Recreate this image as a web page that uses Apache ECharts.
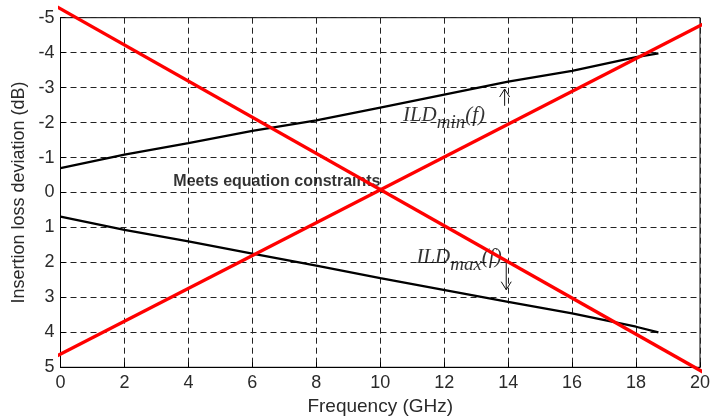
<!DOCTYPE html>
<html>
<head>
<meta charset="utf-8">
<script src="https://cdn.jsdelivr.net/npm/echarts@6/dist/echarts.min.js"></script>
<style>
html,body{margin:0;padding:0;background:#fff;}
#chart{width:719px;height:417px;}
</style>
</head>
<body>
<div id="chart"></div>
<script>
// ---- data ----
const xTicks = [0, 2, 4, 6, 8, 10, 12, 14, 16, 18, 20];
const yTicks = [-5, -4, -3, -2, -1, 0, 1, 2, 3, 4, 5];

const ildMinFreq = [0, 2, 4, 6, 8, 10, 14, 16, 18, 18.7];
const ildMinVal  = [-0.70, -1.08, -1.41, -1.76, -2.06, -2.43, -3.17, -3.48, -3.87, -3.98];

const ildMaxFreq = [0, 2, 4, 6, 8, 10, 14, 16, 18, 18.7];
const ildMaxVal  = [0.69, 1.07, 1.40, 1.75, 2.09, 2.45, 3.13, 3.46, 3.84, 4.00];

const redAFreq = [-0.17, 20.14];
const redAVal  = [-5.34, 5.16];
const redBFreq = [-0.19, 20.14];
const redBVal  = [4.71, -4.84];

// annotations: [freq, value]
const labelMin = [10.71, -2.21];
const labelMax = [11.13, 1.87];
const labelMeets = [3.53, -0.31];
const meetsText = 'Meets equation constraints';

// arrows: [freq, tailValue, headValue]
const arrowMin = [13.89, -2.48, -2.96];
const arrowMax = [13.94, 1.92, 2.78];

const zip = (xs, ys) => xs.map((x, i) => [x, ys[i]]);

const chart = echarts.init(document.getElementById('chart'), null, {renderer: 'canvas'});

const tickFont = {fontFamily: 'Liberation Sans, Arial, sans-serif', fontSize: 18, color: '#2a2a2a'};
const dash = {color: '#222', width: 1, type: [6, 4]};

const ildRich = {
  a: {fontFamily: 'Liberation Serif, Times New Roman, serif', fontStyle: 'italic', fontSize: 21, lineHeight: 34, color: '#000'},
  b: {fontFamily: 'Liberation Serif, Times New Roman, serif', fontStyle: 'italic', fontSize: 19, lineHeight: 17, color: '#000', verticalAlign: 'bottom'}
};

function arrowItem(params, api) {
  const x = api.value(0), y1 = api.value(1), y2 = api.value(2);
  const p1 = api.coord([x, y1]);
  const p2 = api.coord([x, y2]);
  const dir = p2[1] > p1[1] ? 1 : -1;
  const hw = 5, hl = 8;
  return {
    type: 'group',
    children: [
      {type: 'line', shape: {x1: p1[0], y1: p1[1], x2: p2[0], y2: p2[1]}, style: {stroke: '#111', lineWidth: 1}},
      {type: 'polyline', shape: {points: [[p2[0] - hw, p2[1] - dir * hl], [p2[0], p2[1]], [p2[0] + hw, p2[1] - dir * hl]]}, style: {stroke: '#111', lineWidth: 1, fill: null}}
    ]
  };
}

const option = {
  animation: false,
  backgroundColor: '#fff',
  grid: {left: 60.5, right: 19, top: 17.7, bottom: 49.7, show: true, borderColor: '#000', borderWidth: 1,
         containLabel: false, outerBoundsMode: 'none'},
  xAxis: {
    type: 'value', min: xTicks[0], max: xTicks[xTicks.length - 1], interval: 2,
    name: 'Frequency (GHz)', nameLocation: 'middle', nameGap: 27,
    nameTextStyle: {fontFamily: 'Liberation Sans, Arial, sans-serif', fontSize: 19, color: '#2a2a2a'},
    axisLine: {show: true, onZero: false, lineStyle: {color: '#000', width: 1}},
    axisTick: {show: true, inside: true, length: 5, lineStyle: {color: '#000'}},
    axisLabel: Object.assign({margin: 7}, tickFont),
    splitLine: {show: true, lineStyle: dash}
  },
  yAxis: {
    type: 'value', inverse: true, min: yTicks[0], max: yTicks[yTicks.length - 1], interval: 1,
    name: 'Insertion loss deviation (dB)', nameLocation: 'middle', nameGap: 23,
    nameTextStyle: {fontFamily: 'Liberation Sans, Arial, sans-serif', fontSize: 18, color: '#2a2a2a'},
    axisLine: {show: true, onZero: false, lineStyle: {color: '#000', width: 1}},
    axisTick: {show: true, inside: true, length: 5, lineStyle: {color: '#000'}},
    axisLabel: Object.assign({margin: 6}, tickFont),
    splitLine: {show: true, lineStyle: dash}
  },
  series: [
    {
      name: 'ILDmin', type: 'line', data: zip(ildMinFreq, ildMinVal), showSymbol: false, symbol: 'none',
      lineStyle: {color: '#000', width: 2.3}, z: 3
    },
    {
      name: 'ILDmax', type: 'line', data: zip(ildMaxFreq, ildMaxVal), showSymbol: false, symbol: 'none',
      lineStyle: {color: '#000', width: 2.3}, z: 3
    },
    {
      name: 'annotations', type: 'scatter', symbolSize: 0, silent: true, z: 4,
      data: [
        {value: labelMin, label: {formatter: '{a|ILD}{b|min}{a|(f)}'}},
        {value: labelMax, label: {formatter: '{a|ILD}{b|max}{a|(f)}'}},
        {value: labelMeets, label: {formatter: meetsText, fontFamily: 'Liberation Sans, Arial, sans-serif', fontWeight: 'bold', fontSize: 16, color: '#000'}}
      ],
      label: {show: true, position: [0, 0], align: 'left', verticalAlign: 'middle', rich: ildRich}
    },
    {
      name: 'arrows', type: 'custom', renderItem: arrowItem, z: 4, silent: true,
      data: [arrowMin, arrowMax]
    },
    {
      name: 'redA', type: 'line', data: zip(redAFreq, redAVal), showSymbol: false, symbol: 'none', clip: false,
      lineStyle: {color: '#ff0000', width: 3.3}, z: 6
    },
    {
      name: 'redB', type: 'line', data: zip(redBFreq, redBVal), showSymbol: false, symbol: 'none', clip: false,
      lineStyle: {color: '#ff0000', width: 3.3}, z: 6
    }
  ]
};
chart.setOption(option);
</script>
</body>
</html>
